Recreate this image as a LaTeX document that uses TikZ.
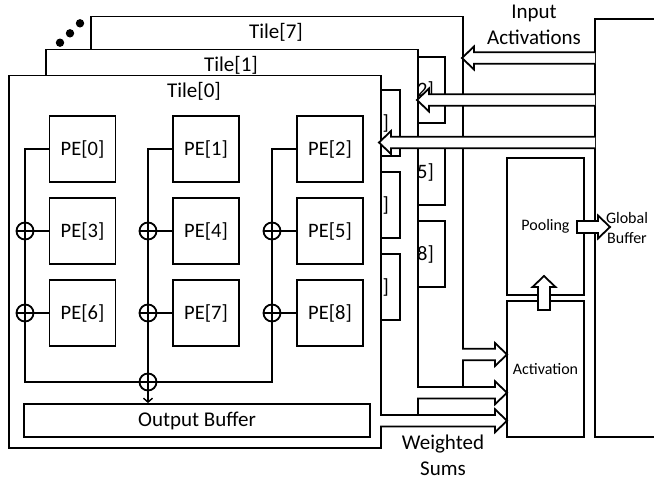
\documentclass[tikz,border=0pt]{standalone}
\usepackage{fontspec}
\setmainfont{Carlito}
\usetikzlibrary{arrows.meta,calc}
\tikzset{
  ln/.style={line width=1.8pt},
  blk/.style={line width=1.8pt, fill=white, line join=miter},
  tilebox/.style={draw, line width=1.8pt, fill=white, minimum width=372pt, inner sep=0pt},
  tiletitle/.style={inner sep=0pt, font=\fontsize{21}{25}\selectfont},
  pebox/.style={draw, line width=1.8pt, fill=white, minimum width=66pt, minimum height=66pt, inner sep=0pt, font=\fontsize{20.5}{24}\selectfont},
  adder/.style={circle, draw, line width=1.8pt, minimum size=17pt, inner sep=0pt,
    path picture={\draw[line width=1.8pt] (path picture bounding box.north) -- (path picture bounding box.south)
      (path picture bounding box.west) -- (path picture bounding box.east);}},
  unit/.style={draw, line width=1.8pt, inner sep=0pt, font=\fontsize{16}{20}\selectfont, align=center},
  bigtext/.style={inner sep=0pt, align=center, font=\fontsize{21}{25.5}\selectfont},
  dotm/.style={circle, fill=black, inner sep=0pt, minimum size=8.4pt}
}
% hollow block arrows: tail x, tip x, centre y  (open tail)
\newcommand\blkL[3]{\filldraw[blk] (#1,#3-5.75) -- (#2+12,#3-5.75) -- (#2+12,#3-11.5) -- (#2,#3) -- (#2+12,#3+11.5) -- (#2+12,#3+5.75) -- (#1,#3+5.75);}
\newcommand\blkR[3]{\filldraw[blk] (#1,#3-5.75) -- (#2-12,#3-5.75) -- (#2-12,#3-11.5) -- (#2,#3) -- (#2-12,#3+11.5) -- (#2-12,#3+5.75) -- (#1,#3+5.75);}
% back tile (only its visible right PE column): name, dx, dy, height, label
\newcommand\backtile[5]{%
  \begin{scope}[shift={(#2,#3)}]
    \node[tilebox, minimum height=#4, anchor=north west] (#1) at (8,74.5) {};
    \node[tiletitle] (#1title) at (194,91) {#5};
    \foreach \i/\x/\y in {2/330/149,5/330/231,8/330/313}
      \node[pebox] (#1pe\i) at (\x,\y) {PE[\i]};
  \end{scope}}
\begin{document}
\begin{tikzpicture}[x=1pt,y=-1pt]
\useasboundingbox (0,0) rectangle (654,480);
\clip (0,0) rectangle (654,480);

% back tiles
\backtile{tseven}{82}{-59}{372pt}{Tile[7]}
\node[dotm] (d1) at (60,42.7) {};
\node[dotm] (d2) at (70,33.3) {};
\node[dotm] (d3) at (80,23.3) {};
\backtile{tone}{37}{-26}{367pt}{Tile[1]}

% front tile
\node[tilebox, minimum height=372.5pt, anchor=north west] (tzero) at (8,74.5) {};
\node[tiletitle] (tzerotitle) at (194,91) {Tile[0]};
\foreach \i/\x/\y in {0/82.5/149,1/206/149,2/330/149,3/82.5/231,4/206/231,5/330/231,6/82.5/313,7/206/313,8/330/313}
  \node[pebox] (pe\i) at (\x,\y) {PE[\i]};
\foreach \i/\x/\y in {3/25/231,4/148/231,5/272/231,6/25/313,7/148/313,8/272/313}
  \node[adder] (a\i) at (\x,\y) {};
\node[adder] (ab) at (148,382) {};
\node[draw, line width=1.8pt, minimum width=346pt, minimum height=33pt, inner sep=0pt,
      font=\fontsize{21}{25}\selectfont] (ob) at (197,420.5) {Output Buffer};

\draw[ln] (pe0.west) -| (a3);
\draw[ln] (pe1.west) -| (a4);
\draw[ln] (pe2.west) -| (a5);
\foreach \i in {3,...,8} \draw[ln] (a\i) -- (pe\i);
\draw[ln] (a3) -- (a6);
\draw[ln] (a4) -- (a7);
\draw[ln] (a5) -- (a8);
\draw[ln] (a6) |- (ab);
\draw[ln] (a7) -- (ab);
\draw[ln] (a8) |- (ab);
\draw[ln, -{Straight Barb[length=4pt,width=9pt,line width=1.4pt]}] (ab.south) -- (ab.south |- ob.north);

% right side units
\node[unit, minimum width=64pt, minimum height=418pt] (gb) at (627,228) {Global\\Buffer};
\node[unit, minimum width=77pt, minimum height=137pt] (pool) at (545.5,226.5) {Pooling};
\node[unit, minimum width=77pt, minimum height=136pt] (act) at (545.5,369) {Activation};

% input activations
\blkL{595}{462}{58}
\blkL{595}{417}{100}
\blkL{595}{379}{142.5}
\node[bigtext] (inlab) at (534,25) {Input\\Activations};

% weighted sums
\blkR{462}{507}{354.5}
\blkR{417}{507}{392.75}
\blkR{380}{507}{420.75}
\node[bigtext] (wslab) at (443,455.5) {Weighted\\Sums};

% activation -> pooling
\filldraw[blk] (538,310) -- (538,287) -- (532.5,287) -- (544,276) -- (555.5,287) -- (550,287) -- (550,310) -- cycle;
% pooling -> global buffer
\filldraw[blk] (577,221) -- (598,221) -- (598,215.5) -- (610,227) -- (598,238.5) -- (598,233) -- (577,233) -- cycle;
\end{tikzpicture}
\end{document}
